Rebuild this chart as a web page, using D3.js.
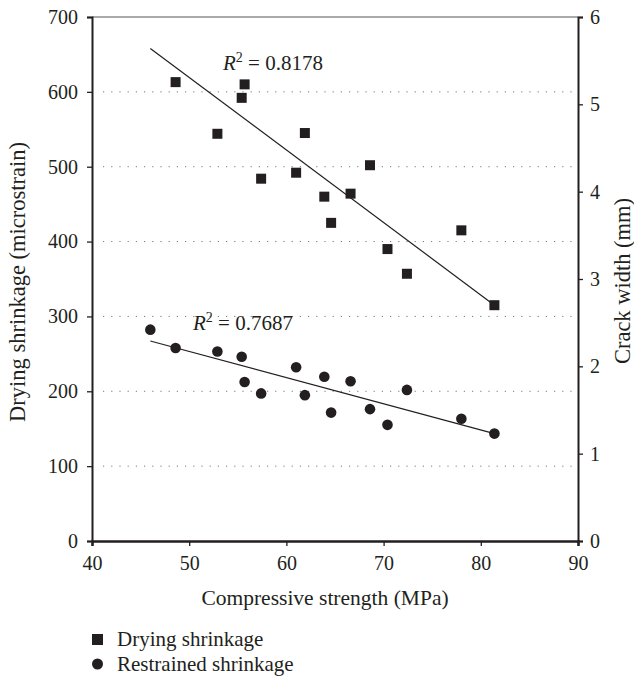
<!DOCTYPE html>
<html>
<head>
<meta charset="utf-8">
<script src="https://cdn.jsdelivr.net/npm/d3@7"></script>
<style>
  body { margin: 0; background: #fff; }
  svg { display: block; }
  text { font-family: "Liberation Serif", "DejaVu Serif", serif; fill: #231f20; }
</style>
</head>
<body>
<svg id="chart" width="634" height="682"></svg>
<script>
// ---- Data ----
const strength = [48.6, 52.9, 55.4, 55.7, 57.4, 61.0, 61.9, 63.9, 64.6, 66.6, 68.6, 70.4, 72.4, 78.0, 81.4];
const dryingShrinkage = [613, 544, 592, 610, 484, 492, 545, 460, 425, 464, 502, 390, 357, 415, 315];
const crackStrength = [46.0, 48.6, 52.9, 55.4, 55.7, 57.4, 61.0, 61.9, 63.9, 64.6, 66.6, 68.6, 70.4, 72.4, 78.0, 81.4];
const crackWidth = [2.42, 2.21, 2.17, 2.11, 1.82, 1.69, 1.99, 1.67, 1.88, 1.47, 1.83, 1.51, 1.33, 1.73, 1.40, 1.23];
const trendX = [46.0, 81.4];
const trendDrying = [658, 315];
const trendCrack = [2.29, 1.23];
const xTicks = [40, 50, 60, 70, 80, 90];
const yLeftTicks = [0, 100, 200, 300, 400, 500, 600, 700];
const yRightTicks = [0, 1, 2, 3, 4, 5, 6];
const r2Labels = ["0.8178", "0.7687"];
const legendLabels = ["Drying shrinkage", "Restrained shrinkage"];

// ---- Layout ----
const svg = d3.select("#chart");
const L = 92, R = 578, T = 17, B = 541;
const x = d3.scaleLinear().domain([40, 90]).range([L, R]);
const yL = d3.scaleLinear().domain([0, 700]).range([B, T]);
const yR = d3.scaleLinear().domain([0, 6]).range([B, T]);
const ink = "#231f20";
const serif = "Liberation Serif, serif";

// gridlines
svg.append("g").selectAll("line")
  .data(yLeftTicks.filter(d => d > 0 && d < 700))
  .join("line")
  .attr("x1", L + 11).attr("x2", R - 5)
  .attr("y1", d => yL(d)).attr("y2", d => yL(d))
  .attr("stroke", "#777").attr("stroke-width", 1)
  .attr("stroke-dasharray", "1.2,7");

// top border
svg.append("line").attr("x1", L).attr("x2", R).attr("y1", T).attr("y2", T)
  .attr("stroke", "#555").attr("stroke-width", 1);

// axes
const tickFs = "20px";
const gx = svg.append("g").attr("transform", `translate(0,${B})`)
  .call(d3.axisBottom(x).tickValues(xTicks).tickSize(5).tickPadding(10).tickFormat(d3.format("d")));
const gl = svg.append("g").attr("transform", `translate(${L},0)`)
  .call(d3.axisLeft(yL).tickValues(yLeftTicks).tickSize(5).tickPadding(9).tickFormat(d3.format("d")));
const gr = svg.append("g").attr("transform", `translate(${R},0)`)
  .call(d3.axisRight(yR).tickValues(yRightTicks).tickSize(5).tickPadding(7).tickFormat(d3.format("d")));
[gx, gl, gr].forEach(g => {
  g.selectAll("text").style("font-size", tickFs).style("font-family", serif).attr("fill", ink);
  g.selectAll(".tick line").attr("stroke", ink).attr("stroke-width", 1.3);
  g.select(".domain").attr("stroke", ink).attr("stroke-width", 2);
});
gx.select(".domain").attr("stroke-width", 2.5);

// axis titles
svg.append("text").attr("x", 325).attr("y", 605).attr("text-anchor", "middle")
  .style("font-size", "21.5px").text("Compressive strength (MPa)");
svg.append("text").attr("transform", `translate(25,282) rotate(-90)`)
  .attr("text-anchor", "middle").style("font-size", "22.5px").text("Drying shrinkage (microstrain)");
svg.append("text").attr("transform", `translate(630,281) rotate(-90)`)
  .attr("text-anchor", "middle").style("font-size", "22.5px").text("Crack width (mm)");

// trend lines
const lineL = d3.line().x(d => x(d[0])).y(d => yL(d[1]));
const lineR = d3.line().x(d => x(d[0])).y(d => yR(d[1]));
svg.append("path").attr("d", lineL(trendX.map((v, i) => [v, trendDrying[i]])))
  .attr("fill", "none").attr("stroke", ink).attr("stroke-width", 1.2);
svg.append("path").attr("d", lineR(trendX.map((v, i) => [v, trendCrack[i]])))
  .attr("fill", "none").attr("stroke", ink).attr("stroke-width", 1.2);

// squares
const sq = 10;
svg.append("g").selectAll("rect")
  .data(strength.map((v, i) => [v, dryingShrinkage[i]]))
  .join("rect")
  .attr("x", d => x(d[0]) - sq / 2).attr("y", d => yL(d[1]) - sq / 2)
  .attr("width", sq).attr("height", sq).attr("fill", ink);

// circles
svg.append("g").selectAll("circle")
  .data(crackStrength.map((v, i) => [v, crackWidth[i]]))
  .join("circle")
  .attr("cx", d => x(d[0])).attr("cy", d => yR(d[1]))
  .attr("r", 5.3).attr("fill", ink);

// R² labels
function r2(xp, yp, val) {
  const t = svg.append("text").attr("x", xp).attr("y", yp).style("font-size", "21px");
  t.append("tspan").style("font-style", "italic").text("R");
  t.append("tspan").attr("dy", -8).style("font-size", "14px").text("2");
  t.append("tspan").attr("dy", 8).text(" = " + val);
}
r2(223, 70, r2Labels[0]);
r2(193, 330, r2Labels[1]);

// legend
const legFs = "21px";
svg.append("rect").attr("x", 92).attr("y", 634).attr("width", 11).attr("height", 11).attr("fill", ink);
svg.append("text").attr("x", 117).attr("y", 646).style("font-size", legFs).text(legendLabels[0]);
svg.append("circle").attr("cx", 97.5).attr("cy", 664).attr("r", 5.5).attr("fill", ink);
svg.append("text").attr("x", 117).attr("y", 671).style("font-size", legFs).text(legendLabels[1]);
</script>
</body>
</html>
